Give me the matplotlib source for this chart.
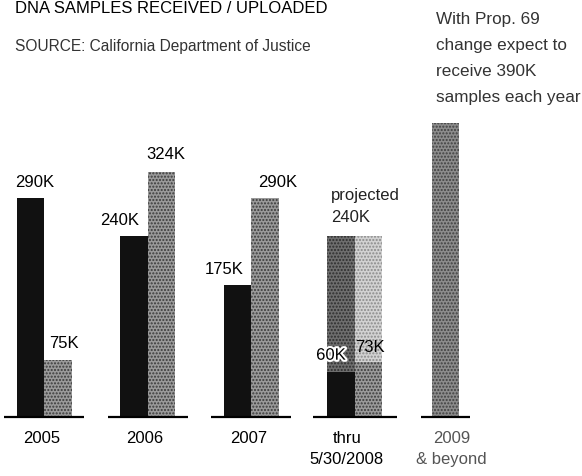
import matplotlib
matplotlib.use('Agg')
import matplotlib.pyplot as plt
import matplotlib.patheffects as pe
import numpy as np

plt.rcParams['font.family'] = ['Liberation Sans', 'DejaVu Sans']
plt.rcParams['hatch.linewidth'] = 1.0

# data (thousands of samples)
groups = ['2005', '2006', '2007', 'thru\n5/30/2008', '2009\n& beyond']
received = [290, 240, 175, 60]
uploaded = [75, 324, 290, 73]
projected = 240
future = 390
recv_labels = ['290K', '240K', '175K', '60K']
upl_labels = ['75K', '324K', '290K', '73K']

pos = np.array([0, 1, 2, 3, 3.88])
w = 0.266

fig = plt.figure(figsize=(5.82, 4.77), dpi=100)
ax = fig.add_axes([0, 0, 1, 1])
ax.set_xlim(-0.430, 5.198)
ax.set_ylim(-78.1, 553.6)
ax.axis('off')

# actual bars
ax.bar(pos[:4] - w / 2, received, w, color='#111111', linewidth=0)
ax.bar(pos[:4] + w / 2, uploaded, w, color='#9a9a9a', edgecolor='#3a3a3a',
       hatch='.....', linewidth=0)

# projected part for the 2008 group
ax.bar(pos[3] - w / 2, projected - received[3], w, bottom=received[3],
       color='#6e6e6e', edgecolor='#2e2e2e', hatch='.....', linewidth=0)
ax.bar(pos[3] + w / 2, projected - uploaded[3], w, bottom=uploaded[3],
       color='#d2d2d2', edgecolor='#8a8a8a', hatch='.....', linewidth=0)

# 2009 and beyond
ax.bar(pos[4], future, w, color='#8c8c8c', edgecolor='#404040',
       hatch='.....', linewidth=0)

# baselines under each group
half = [0.387, 0.387, 0.387, 0.405, 0.235]
for p, h in zip(pos, half):
    ax.hlines(0, p - h, p + h, color='black', lw=1.6)

# value labels
recv_off = [(4, 9), (-14, 9), (-13, 9), (-10, 9)]
upl_off = [(6, 10), (4, 11), (13, 9), (1, 8)]
for i in range(4):
    t = ax.annotate(recv_labels[i], (pos[i] - w / 2, received[i]),
                    xytext=recv_off[i], textcoords='offset pixels',
                    ha='center', va='bottom', fontsize=12)
    if i == 3:
        t.set_path_effects([pe.withStroke(linewidth=3, foreground='white')])
    ax.annotate(upl_labels[i], (pos[i] + w / 2, uploaded[i]),
                xytext=upl_off[i], textcoords='offset pixels',
                ha='center', va='bottom', fontsize=12)

ax.annotate('projected\n240K', (pos[3] - w, projected),
            xytext=(4, 12), textcoords='offset pixels',
            ha='left', va='bottom', fontsize=12, linespacing=1.55,
            color='#222222')

# group labels
lab_off = [-3, -3, -3, -8, 6]
for p, g, dx in zip(pos, groups, lab_off):
    ax.annotate(g, (p, 0), xytext=(dx, -13), textcoords='offset pixels',
                ha='center', va='top', fontsize=12, linespacing=1.5,
                color='#555555' if '2009' in g else 'black')

fig.text(15 / 582, 1 - 1 / 477, 'DNA SAMPLES RECEIVED / UPLOADED',
         ha='left', va='top', fontsize=12)
fig.text(15 / 582, 1 - 46 / 477, 'SOURCE: California Department of Justice',
         ha='left', va='center', fontsize=11.2, color='#333333')
fig.text(436 / 582, 1 - 12 / 477,
         'With Prop. 69\nchange expect to\nreceive 390K\nsamples each year',
         ha='left', va='top', fontsize=12.3, linespacing=1.93, color='#333333')

fig.savefig('out.png', dpi=100)
